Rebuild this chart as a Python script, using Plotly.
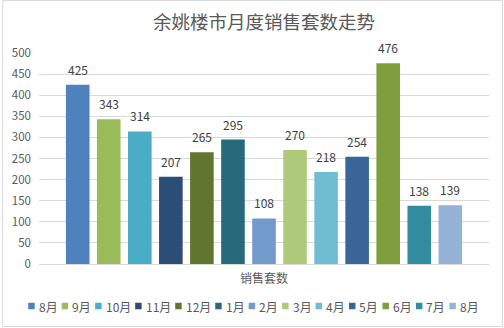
import plotly.graph_objects as go

# ---- data ----
title = "余姚楼市月度销售套数走势"
category = ["销售套数"]
months = ["8月", "9月", "10月", "11月", "12月", "1月", "2月", "3月", "4月", "5月", "6月", "7月", "8月"]
values = [425, 343, 314, 207, 265, 295, 108, 270, 218, 254, 476, 138, 139]
colors = ["#4F81BD", "#9BBB59", "#4BACC6", "#2C4D75", "#5F7530", "#276A7C",
          "#729ACA", "#AFC97A", "#6FBDD1", "#3A6598", "#7E9E3E", "#338BA0", "#95B3D7"]
y_ticks = [0, 50, 100, 150, 200, 250, 300, 350, 400, 450, 500]

# ---- layout geometry (pixels) ----
W_FIG, H_FIG = 504, 328
L, R, T, B = 37, 489, 53, 264
PW, PH = R - L, B - T
BARGAP, BARGROUPGAP = 0.103, 0.24

def px_x(px):
    return (px - L) / PW

def px_y(py):
    return (B - py) / PH

FONT = "Noto Sans CJK SC, Microsoft YaHei, sans-serif"
GREY = "#595959"

fig = go.Figure()
for name, v, c in zip(months, values, colors):
    fig.add_trace(go.Bar(
        x=category, y=[v], name=name,
        marker=dict(color=c, line=dict(width=0)),
        showlegend=False,
    ))

shapes = []
annotations = []

# data labels above each bar, positioned on the axis scale
n = len(values)
slot = (1 - BARGAP) / n
for i, v in enumerate(values):
    xc = -(1 - BARGAP) / 2 + (i + 0.5) * slot
    annotations.append(dict(text=str(v), x=xc, y=v, xref="x", yref="y",
                            xanchor="center", yanchor="bottom", yshift=6,
                            showarrow=False, borderpad=0,
                            font=dict(family=FONT, size=12, color="#404040")))

# custom legend (one row, centered) built from the month names / colors
def label_width(s):
    digits = sum(ch.isdigit() for ch in s)
    return 6.6 * digits + 11

items = [11 + label_width(name) + 5.0 for name in months]
total = sum(items) - 5.0
x0 = (W_FIG - total) / 2
ly = 306
for name, c, step in zip(months, colors, items):
    shapes.append(dict(type="rect", xref="paper", yref="paper",
                       x0=px_x(x0), x1=px_x(x0 + 6.5),
                       y0=px_y(ly + 3.25), y1=px_y(ly - 3.25),
                       fillcolor=c, line=dict(width=0)))
    annotations.append(dict(text=name, xref="paper", yref="paper",
                            x=px_x(x0 + 9.5), y=px_y(ly), xanchor="left", yanchor="middle",
                            showarrow=False, borderpad=0,
                            font=dict(family=FONT, size=12, color=GREY)))
    x0 += step

# outer chart border
shapes.append(dict(type="rect", xref="paper", yref="paper",
                   x0=px_x(0.5), x1=px_x(W_FIG - 1.5),
                   y0=px_y(H_FIG - 1.5), y1=px_y(0.5),
                   line=dict(color="#D9D9D9", width=1), fillcolor="rgba(0,0,0,0)",
                   layer="below"))

fig.update_layout(
    width=W_FIG, height=H_FIG,
    margin=dict(l=L, r=W_FIG - R, t=T, b=H_FIG - B, pad=0),
    paper_bgcolor="white", plot_bgcolor="white",
    barmode="group", bargap=BARGAP, bargroupgap=BARGROUPGAP,
    title=dict(text=title, x=0.5, xref="paper", xanchor="center",
               y=1 - 23 / H_FIG, yanchor="middle",
               font=dict(family=FONT, size=18.5, color=GREY)),
    font=dict(family=FONT, color=GREY),
    xaxis=dict(showgrid=False, showline=True, linecolor="#D9D9D9", linewidth=1,
               ticks="", ticklabelstandoff=4,
               tickfont=dict(family=FONT, size=12, color=GREY),
               zeroline=False, fixedrange=True),
    yaxis=dict(range=[0, 500], tickvals=y_ticks, showgrid=True, gridcolor="#D9D9D9",
               gridwidth=1, zeroline=False, showline=False, ticks="",
               ticklabelstandoff=7,
               tickfont=dict(family=FONT, size=11.5, color=GREY), fixedrange=True),
    shapes=shapes, annotations=annotations,
    showlegend=False,
)

fig.write_html("out.html")
